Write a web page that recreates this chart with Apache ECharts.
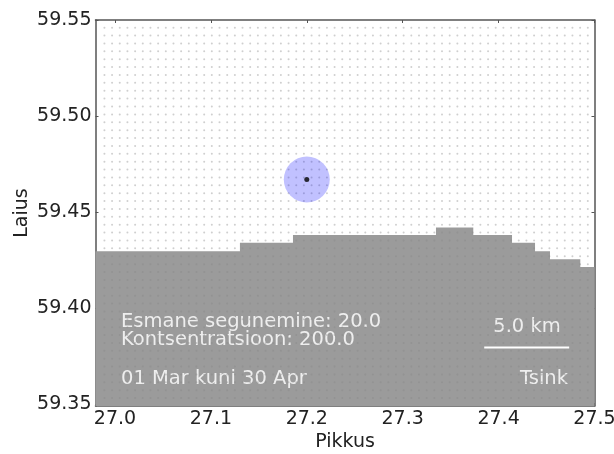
<!DOCTYPE html>
<html>
<head>
<meta charset="utf-8">
<style>
html, body { margin: 0; padding: 0; background: #fff; }
#chart { width: 614px; height: 454px; filter: blur(0.5px); }
</style>
<script src="https://cdn.jsdelivr.net/npm/echarts@6/dist/echarts.min.js"></script>
</head>
<body>
<div id="chart"></div>
<script>
'use strict';

var xTicks = [27.0, 27.1, 27.2, 27.3, 27.4, 27.5];
var yTicks = [59.35, 59.40, 59.45, 59.50, 59.55];

// kalda serv: step edges and the height of each step
var landLon = [26.9797, 27.1303, 27.1856, 27.3347, 27.3736, 27.414, 27.438, 27.4536, 27.4852, 27.5];
var landLat = [59.4297, 59.4341, 59.4381, 59.4421, 59.4381, 59.4341, 59.4297, 59.4255, 59.4215, 59.4215];

// release grid, the small gray dots
var gridLon = [
    26.989, 26.997, 27.005, 27.013, 27.021, 27.029, 27.037, 27.045, 27.053, 27.061, 27.069, 27.077, 27.085,
    27.093, 27.101, 27.109, 27.117, 27.125, 27.133, 27.141, 27.149, 27.157, 27.165, 27.173, 27.181, 27.189,
    27.197, 27.205, 27.213, 27.221, 27.229, 27.237, 27.245, 27.253, 27.261, 27.269, 27.277, 27.285, 27.293,
    27.301, 27.309, 27.317, 27.325, 27.333, 27.341, 27.349, 27.357, 27.365, 27.373, 27.381, 27.389, 27.397,
    27.405, 27.413, 27.421, 27.429, 27.437, 27.445, 27.453, 27.461, 27.469, 27.477, 27.485, 27.493
];
var gridLat = [
    59.5460, 59.5419, 59.5378, 59.5337, 59.5296, 59.5255, 59.5214, 59.5173, 59.5132, 59.5091, 59.5050, 59.5009,
    59.4968, 59.4927, 59.4886, 59.4845, 59.4804, 59.4763, 59.4722, 59.4681, 59.4640, 59.4599, 59.4558, 59.4517,
    59.4476, 59.4435, 59.4394, 59.4353, 59.4312, 59.4271, 59.4230, 59.4189, 59.4148, 59.4107, 59.4066, 59.4025,
    59.3984, 59.3943, 59.3902, 59.3861, 59.3820, 59.3779, 59.3738, 59.3697, 59.3656, 59.3615, 59.3574, 59.3533
];

var sourcePoint = [27.2, 59.467];
var scaleBar = [[27.385, 59.3796], [27.4736, 59.3796]];

var xMin = 26.9797, xMax = 27.5;
var yMin = 59.3492, yMax = 59.55;
var FONT = 'DejaVu Sans';

var landData = [];
for (var i = 0; i < landLon.length; i++) {
    landData.push([landLon[i], landLat[i]]);
}
var gridData = [];
for (var a = 0; a < gridLon.length; a++) {
    for (var b = 0; b < gridLat.length; b++) {
        gridData.push([gridLon[a], gridLat[b]]);
    }
}

function make_axis(pos, ticks, digits, showLabel) {
    return {
        type: 'value',
        position: pos,
        min: (pos == 'top' || pos == 'bottom') ? xMin : yMin,
        max: (pos == 'top' || pos == 'bottom') ? xMax : yMax,
        splitLine: { show: false },
        axisLine: { show: true, onZero: false, lineStyle: { color: '#555', width: 1.5 } },
        axisTick: { show: true, inside: true, length: 3, customValues: ticks, lineStyle: { color: '#555', width: 1 } },
        axisLabel: {
            show: showLabel,
            customValues: ticks,
            margin: 4,
            color: '#222',
            fontFamily: FONT,
            fontSize: 19,
            hideOverlap: false,
            formatter: function (v) { return v.toFixed(digits); }
        }
    };
}

var xBottom = make_axis('bottom', xTicks, 1, true);
xBottom.name = 'Pikkus';
xBottom.nameLocation = 'middle';
xBottom.nameGap = 27;
xBottom.nameMoveOverlap = false;
xBottom.nameTextStyle = { color: '#222', fontFamily: FONT, fontSize: 19 };

var yLeft = make_axis('left', yTicks, 2, true);
yLeft.name = 'Laius';
yLeft.nameLocation = 'middle';
yLeft.nameGap = 64;
yLeft.nameMoveOverlap = false;
yLeft.nameTextStyle = { color: '#222', fontFamily: FONT, fontSize: 19 };

function note(text, x, y, align) {
    return {
        type: 'text',
        x: x,
        y: y,
        z: 100,
        style: {
            text: text,
            fill: '#eee',
            font: '19.5px "' + FONT + '"',
            textAlign: align,
            textVerticalAlign: 'middle'
        }
    };
}

var chart = echarts.init(document.getElementById('chart'), null, { renderer: 'canvas' });
chart.setOption({
    animation: false,
    backgroundColor: '#fff',
    grid: { left: 95.5, right: 19.5, top: 20, bottom: 48, outerBoundsMode: 'none' },
    xAxis: [xBottom, make_axis('top', xTicks, 1, false)],
    yAxis: [yLeft, make_axis('right', yTicks, 2, false)],
    graphic: [
        note('Esmane segunemine: 20.0', 121, 322, 'left'),
        note('Kontsentratsioon: 200.0', 121, 340, 'left'),
        note('01 Mar kuni 30 Apr', 121, 379, 'left'),
        note('5.0 km', 527, 327, 'center'),
        note('Tsink', 568, 379, 'right')
    ],
    series: [
        {
            type: 'line',
            step: 'end',
            data: landData,
            showSymbol: false,
            lineStyle: { width: 0 },
            areaStyle: { color: '#9b9b9b', opacity: 1, origin: 'start' },
            z: 1
        },
        {
            type: 'scatter',
            data: gridData,
            symbolSize: 2,
            itemStyle: { color: '#888', opacity: 0.4 },
            z: 2
        },
        {
            type: 'scatter',
            data: [sourcePoint],
            symbolSize: 46,
            itemStyle: { color: 'rgba(0,0,255,0.3)' },
            z: 3
        },
        {
            type: 'scatter',
            data: [sourcePoint],
            symbolSize: 5,
            itemStyle: { color: '#000' },
            z: 4
        },
        {
            type: 'line',
            data: scaleBar,
            showSymbol: false,
            lineStyle: { color: '#fff', width: 2 },
            z: 5
        }
    ]
});
</script>
</body>
</html>
